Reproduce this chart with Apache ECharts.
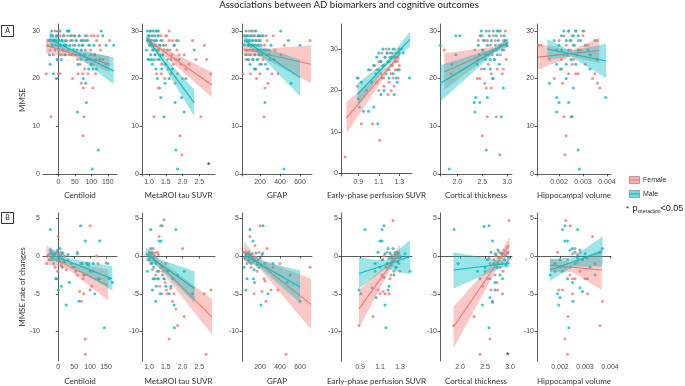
<!DOCTYPE html>
<html>
<head>
<meta charset="utf-8">
<script src="https://cdn.jsdelivr.net/npm/echarts@6/dist/echarts.min.js"></script>
<style>
  html, body { margin: 0; padding: 0; background: #fff; }
  #chart { width: 685px; height: 386px; }
</style>
</head>
<body>
<div id="chart"></div>
<script>
// ---- axis titles and ticks ----
const xNames = ['Centiloid', 'MetaROI tau SUVR', 'GFAP', 'Early-phase perfusion SUVR', 'Cortical thickness', 'Hippocampal volume'];
const xTicks = [[0, 50, 100, 150], [1.0, 1.5, 2.0, 2.5], [200, 400, 600], [0.9, 1.1, 1.3], [2.0, 2.5, 3.0], [0.002, 0.003, 0.004]];
const xDecimals = [null, 1, null, 1, 1, 3];
const yTicksA = [0, 10, 20, 30];
const yTicksB = [-10, -5, 0, 5];

// ---- A: MMSE ----
const a1Female = [[-37,21],[-32,27],[-28,28],[-25,26],[-22,12],[-20,28],[-18,29],[-15,25],[-12,28],[-10,30],[-8,27],[-5,29],[-3,24],[-2,30],[0,21],[0,28],[2,26],[4,21],[5,29],[8,27],[10,25],[12,28],[15,26],[18,29],[20,27],[22,25],[25,28],[28,29],[30,26],[33,25],[36,28],[40,29],[43,20],[45,27],[48,25],[50,29],[53,28],[56,26],[58,24],[60,21],[62,29],[64,25],[66,23],[68,28],[70,19],[72,27],[74,21],[75,8],[76,18],[78,12],[80,22],[82,26],[84,28],[86,24],[88,29],[90,21],[92,27],[95,24],[98,26],[100,29],[103,23],[105,18],[108,29],[110,25],[113,21],[116,28],[120,29],[125,27],[128,26],[135,24],[145,23],[155,28]];
const a1Male = [[-30,28],[-27,25],[-25,23],[-22,29],[-20,30],[-18,27],[-15,21],[-13,28],[-10,26],[-8,28],[-6,20],[-5,29],[-3,24],[0,27],[2,28],[3,25],[5,30],[7,27],[9,24],[11,28],[13,26],[15,29],[17,27],[19,25],[21,28],[24,27],[27,30],[30,30],[33,30],[35,27],[37,29],[40,25],[42,28],[45,26],[48,29],[50,27],[53,25],[55,28],[58,13],[60,23],[62,27],[64,29],[66,25],[68,24],[70,26],[72,28],[74,27],[76,20],[78,28],[80,25],[82,29],[83,19],[85,15],[87,24],[89,28],[92,22],[95,27],[98,25],[100,23],[103,1],[105,22],[108,27],[110,25],[113,24],[116,22],[121,5],[125,24],[130,30],[135,29],[145,27],[168,27]];
const a2Female = [[0.95,28],[1.0,29],[1.02,27],[1.05,30],[1.07,28],[1.1,26],[1.12,29],[1.15,12],[1.15,27],[1.18,25],[1.2,30],[1.22,28],[1.22,21],[1.25,24],[1.27,29],[1.28,18],[1.3,26],[1.32,18],[1.33,27],[1.35,29],[1.37,21],[1.38,23],[1.4,28],[1.42,25],[1.45,26],[1.47,20],[1.5,27],[1.5,29],[1.52,29],[1.55,24],[1.57,22],[1.6,28],[1.6,30],[1.62,26],[1.65,21],[1.68,25],[1.7,28],[1.72,23],[1.75,27],[1.78,19],[1.8,24],[1.83,26],[1.85,21],[1.88,28],[1.9,25],[1.93,8],[1.95,23],[1.98,4],[2.0,20],[2.05,25],[2.1,22],[2.2,23],[2.3,28],[2.4,24],[2.55,12],[2.65,27],[2.72,24],[2.85,21]];
const a2Male = [[0.92,26],[0.95,30],[0.97,24],[0.98,28],[1.0,29],[1.0,24],[1.02,27],[1.03,30],[1.05,25],[1.05,28],[1.07,24],[1.08,29],[1.1,27],[1.1,23],[1.12,30],[1.13,26],[1.15,28],[1.15,24],[1.17,29],[1.18,25],[1.2,27],[1.2,22],[1.22,28],[1.23,30],[1.25,20],[1.25,26],[1.27,29],[1.28,30],[1.3,24],[1.32,27],[1.33,25],[1.35,16],[1.35,28],[1.38,22],[1.4,25],[1.43,27],[1.45,12],[1.48,19],[1.5,23],[1.55,26],[1.6,20],[1.65,24],[1.7,22],[1.75,27],[1.78,15],[1.8,5],[1.82,28],[1.85,1],[1.9,24],[1.97,16],[2.05,13],[2.1,20],[2.35,26]];
const a3Female = [[30,21],[45,29],[55,26],[60,24],[65,28],[70,25],[75,29],[80,27],[85,24],[90,30],[95,26],[100,28],[105,21],[110,25],[115,29],[120,27],[125,24],[130,28],[135,26],[140,30],[145,25],[150,29],[155,27],[160,22],[165,20],[170,28],[175,26],[180,24],[185,29],[190,27],[195,25],[200,21],[205,28],[210,26],[215,23],[220,29],[230,24],[240,12],[245,27],[250,18],[260,25],[260,29],[270,28],[280,19],[290,26],[300,24],[320,21],[333,29],[350,26],[380,21],[410,25],[443,27],[700,28]];
const a3Male = [[40,27],[50,29],[55,25],[60,30],[65,28],[70,26],[75,29],[80,24],[85,27],[90,28],[95,25],[100,23],[105,29],[110,27],[115,30],[120,26],[125,28],[130,24],[135,29],[140,27],[145,22],[150,25],[150,22],[155,28],[160,30],[165,26],[170,24],[175,27],[180,29],[185,25],[190,28],[195,26],[200,23],[200,29],[210,27],[220,25],[230,29],[240,26],[250,15],[255,23],[265,26],[275,22],[290,25],[310,27],[340,24],[407,30],[440,1],[483,28],[510,19],[600,27]];
const a4Female = [[0.77,4],[0.89,21],[0.9,23],[0.93,12],[0.98,20],[1.02,25],[1.04,12],[1.06,26],[1.08,22],[1.08,25],[1.1,27],[1.1,20],[1.11,8],[1.12,24],[1.12,27],[1.13,29],[1.14,26],[1.15,23],[1.15,21],[1.16,28],[1.17,30],[1.18,25],[1.18,29],[1.19,19],[1.2,27],[1.2,22],[1.21,29],[1.22,24],[1.22,20],[1.23,26],[1.23,28],[1.24,30],[1.24,23],[1.25,28],[1.25,21],[1.26,25],[1.26,28],[1.27,29],[1.28,27],[1.28,25],[1.29,23],[1.3,30],[1.3,26],[1.3,25]];
const a4Male = [[0.89,23],[0.9,18],[0.91,16],[0.93,22],[0.95,15],[1.0,15],[1.0,25],[1.03,22],[1.05,16],[1.05,26],[1.07,24],[1.08,28],[1.09,12],[1.1,25],[1.1,29],[1.12,27],[1.12,19],[1.13,23],[1.14,30],[1.15,26],[1.15,20],[1.16,28],[1.17,24],[1.18,29],[1.19,27],[1.2,30],[1.2,25],[1.2,23],[1.21,28],[1.22,26],[1.23,29],[1.24,24],[1.25,30],[1.25,19],[1.26,27],[1.27,23],[1.28,28],[1.28,22],[1.29,25],[1.3,29],[1.32,30],[1.34,29],[1.4,23]];
const a5Female = [[1.74,26],[1.88,21],[2.35,26],[2.4,24],[2.4,20],[2.42,28],[2.45,20],[2.48,22],[2.5,8],[2.5,29],[2.52,26],[2.55,19],[2.55,28],[2.57,25],[2.58,18],[2.6,12],[2.6,28],[2.62,23],[2.64,30],[2.66,27],[2.68,21],[2.68,18],[2.7,25],[2.7,20],[2.72,29],[2.74,24],[2.76,28],[2.78,12],[2.78,26],[2.8,22],[2.82,30],[2.84,27],[2.85,4],[2.86,25],[2.88,29],[2.9,21],[2.92,28],[2.92,22],[2.94,26],[2.96,30],[2.96,28],[2.98,24],[3.0,27]];
const a5Male = [[1.66,27],[1.84,1],[1.89,23],[1.97,29],[1.97,25],[2.05,29],[2.34,15],[2.35,13],[2.37,16],[2.4,23],[2.42,27],[2.44,25],[2.45,15],[2.46,29],[2.48,30],[2.5,26],[2.52,28],[2.54,22],[2.56,24],[2.58,5],[2.58,30],[2.6,16],[2.6,27],[2.62,25],[2.64,29],[2.66,22],[2.66,24],[2.68,28],[2.7,26],[2.72,30],[2.72,20],[2.74,24],[2.76,27],[2.78,29],[2.8,25],[2.8,30],[2.82,28],[2.84,23],[2.86,30],[2.88,12],[2.88,27],[2.9,26],[2.92,18],[2.94,29],[2.96,28],[2.98,27]];
const a6Female = [[0.00115,27],[0.00125,27],[0.0016,24],[0.0018,20],[0.0019,26],[0.002,28],[0.00205,22],[0.0021,24],[0.00215,19],[0.0022,12],[0.0022,29],[0.00225,4],[0.0023,8],[0.0023,27],[0.00235,25],[0.0024,30],[0.0024,21],[0.00245,28],[0.0025,12],[0.0025,26],[0.00255,29],[0.00255,23],[0.0026,24],[0.00265,27],[0.0027,21],[0.0027,30],[0.00275,25],[0.0028,28],[0.0028,21],[0.0029,26],[0.003,29],[0.00305,30],[0.0031,23],[0.0032,27],[0.0033,25],[0.0034,20],[0.0035,21],[0.0036,19],[0.0036,28],[0.0037,18]];
const a6Male = [[0.0016,19],[0.0018,28],[0.0019,16],[0.0019,13],[0.0019,23],[0.002,15],[0.002,27],[0.0021,29],[0.0021,22],[0.0021,26],[0.0022,30],[0.0022,25],[0.0023,28],[0.0023,23],[0.0023,20],[0.0024,15],[0.0024,30],[0.0024,26],[0.0025,28],[0.0025,24],[0.00255,12],[0.0026,18],[0.0026,29],[0.0026,27],[0.0027,23],[0.0027,30],[0.0028,5],[0.0028,26],[0.0028,29],[0.00285,1],[0.0029,28],[0.003,30],[0.0031,27],[0.0032,26],[0.0033,22],[0.0033,25],[0.0035,28],[0.0036,24],[0.00395,16]];

// ---- B: MMSE rate of changes ----
const b1Female = [[-37,-1],[-30,0.2],[-25,0.8],[-20,-0.5],[-15,0.3],[-10,-1.5],[-5,0.5],[-2,-2],[0,2.6],[2,0.2],[5,-0.8],[8,0.5],[10,-1.2],[12,0.3],[15,-0.5],[20,0],[25,-1.8],[30,-0.5],[40,-1],[50,-1.5],[60,-2.5],[60,0.5],[67,-4.7],[70,-1],[73,-6],[78,-3],[80,-5],[83,-2.5],[85,-11],[85,-13],[90,-1],[95,-1],[100,-4.5],[100,4],[105,-4],[110,-2],[120,0],[125,-1],[130,-3],[150,-0.9]];
const b1Male = [[-28,-0.5],[-25,3.5],[-22,0.5],[-18,-0.2],[-15,-1],[-10,0.3],[-8,-3],[-4,-3],[-2,0.8],[0,-4.5],[2,-0.5],[5,1],[8,0],[10,-4],[12,-1.5],[15,0.4],[20,-0.8],[25,-6.5],[30,0.2],[35,-3.5],[45,-1.5],[55,-2],[60,0.3],[65,-6],[70,4],[75,-1],[80,-2.5],[85,2],[90,-1],[95,-1.2],[100,-2],[110,-1],[115,-5],[125,-3],[130,2],[145,-9.5],[155,-1],[160,-3],[170,-3.5]];
const b2Female = [[0.98,-0.5],[1.02,0.5],[1.05,-1],[1.08,0.3],[1.1,-1.8],[1.12,1],[1.15,-0.5],[1.15,-0.2],[1.18,0.4],[1.2,-2.5],[1.22,-1],[1.25,-3],[1.25,0.5],[1.28,0.2],[1.3,2.6],[1.3,-2],[1.32,-4],[1.35,-1.5],[1.38,-5],[1.4,4],[1.42,-2],[1.45,4.8],[1.45,-3],[1.48,-3.5],[1.5,-1],[1.52,-4.5],[1.55,-5],[1.6,-11],[1.65,-4.3],[1.7,-6],[1.75,-5],[1.8,-7],[1.85,-9.2],[2.0,1],[2.05,-8],[2.65,-5],[2.7,-13],[2.85,-4.5]];
const b2Male = [[0.95,-2],[1.0,0.3],[1.02,-0.5],[1.05,3.5],[1.06,1],[1.08,-1],[1.1,0.5],[1.1,-4.5],[1.12,-3],[1.14,-1.5],[1.15,0],[1.17,-3],[1.2,-0.8],[1.2,-6],[1.22,-4],[1.25,-2],[1.28,-3],[1.3,2],[1.33,-5],[1.35,4],[1.36,2],[1.4,-2.5],[1.45,-3],[1.5,-4],[1.55,-2],[1.6,-5],[1.65,-4],[1.7,-3],[1.75,-6.5],[1.76,-9.5],[1.8,3.5],[1.85,-2.5],[2.05,-2],[2.3,-5]];
const b3Female = [[40,0.5],[50,-0.3],[60,0.2],[70,-1],[80,0.4],[90,-0.5],[95,0.2],[100,2.6],[110,-1.5],[120,0.3],[120,-0.3],[130,-0.8],[140,-5],[150,1.4],[160,-0.2],[170,-2],[180,-1],[190,0.5],[200,4],[210,-1.2],[220,-4.7],[230,0.4],[240,-3],[250,-3.3],[260,-6],[270,1],[310,-4.5],[330,-1.5],[380,-4.5],[400,-1],[460,-13],[700,-1.5]];
const b3Male = [[40,-1.5],[50,-0.2],[60,-4.5],[65,0.3],[70,-3],[80,-0.5],[85,0.5],[90,-0.8],[100,3.5],[105,0.2],[110,-1],[120,-0.3],[130,2],[135,-3],[140,-1.8],[145,-3.5],[150,-0.6],[160,0.4],[170,-1.2],[180,-0.5],[190,-1.5],[200,-0.3],[210,-6.5],[220,0.2],[230,4],[250,-1],[280,-5],[330,-1],[470,-3.5],[500,-2.5],[600,-6]];
const b4Female = [[0.89,-9.2],[1.03,-8],[1.05,-2],[1.08,-4.5],[1.1,-5],[1.12,-0.5],[1.12,-2.5],[1.13,-4.7],[1.14,0],[1.15,-5],[1.16,-1.5],[1.17,0.5],[1.18,-1],[1.19,-0.3],[1.19,-5],[1.2,-3],[1.21,0.2],[1.21,-2.5],[1.22,-0.8],[1.23,4.7],[1.24,-2],[1.24,-0.5],[1.25,0.5],[1.26,-1.5],[1.27,-0.2],[1.28,0.3],[1.29,-1],[1.3,-2],[1.3,0]];
const b4Male = [[0.89,-4.5],[0.91,-5],[0.95,3.5],[1.02,-4.2],[1.05,-1],[1.06,-5.5],[1.08,0.5],[1.1,2],[1.1,-1.5],[1.12,3.5],[1.12,2],[1.13,-0.5],[1.14,4],[1.14,-2.8],[1.15,-6.5],[1.15,0.3],[1.16,-9.5],[1.17,-1],[1.18,-4.5],[1.18,1],[1.19,-4],[1.2,0.4],[1.21,-1.2],[1.22,-0.3],[1.23,1],[1.24,-2.5],[1.25,0.2],[1.26,-1.5],[1.27,0.5],[1.28,-0.8],[1.3,-0.2],[1.35,0.3],[1.4,-2]];
const b5Female = [[1.87,-9.2],[2.28,-8],[2.4,-13],[2.45,-4],[2.5,-2],[2.55,-3],[2.58,-0.3],[2.6,-11],[2.6,-1],[2.62,-4.5],[2.65,-6.2],[2.68,-0.5],[2.7,-2.5],[2.7,0.3],[2.72,0],[2.74,-3.5],[2.75,-4.5],[2.76,-1],[2.78,0.5],[2.8,-1.5],[2.82,-0.2],[2.84,0.3],[2.85,-5],[2.86,-2],[2.88,0.8],[2.9,-0.5],[2.92,0.2],[2.94,1.2],[2.95,-0.8],[2.96,0.4],[2.98,4.7]];
const b5Male = [[1.88,3.5],[1.96,-1],[2.35,-2],[2.4,-3],[2.45,-6.5],[2.48,3.9],[2.5,-1.5],[2.55,-0.5],[2.58,4],[2.58,-9.5],[2.6,-5.5],[2.6,-3],[2.62,0.5],[2.65,2],[2.65,-6],[2.68,-1],[2.7,-3.5],[2.7,-4.5],[2.72,0.2],[2.74,-1.5],[2.76,0.8],[2.78,-0.3],[2.8,-2.5],[2.82,0.4],[2.84,-1],[2.85,-3],[2.86,0.3],[2.88,-0.5],[2.9,0],[2.92,-1.2],[2.95,0.5],[2.97,-0.3]];
const b6Female = [[0.0018,-2],[0.0019,0.5],[0.00195,-4.5],[0.002,-1.5],[0.0021,-4.5],[0.0022,-11],[0.0022,-1.5],[0.00223,4.7],[0.0023,-13],[0.00232,-8],[0.0023,-0.5],[0.0024,4],[0.0024,-2.5],[0.0025,0.3],[0.0025,-3],[0.0025,-5],[0.0026,-3],[0.0026,1],[0.0027,-0.8],[0.0027,0.2],[0.0028,-2],[0.0028,0.5],[0.0029,-0.5],[0.003,-3],[0.0031,-5],[0.0031,-0.3],[0.0033,2.6],[0.0034,-1],[0.0036,-9.2],[0.0037,-6]];
const b6Male = [[0.0016,-2.5],[0.0018,-1],[0.0019,-5],[0.00195,-6.5],[0.002,-5.5],[0.002,-0.5],[0.0021,3.5],[0.0021,-2],[0.0022,4],[0.0022,2],[0.0023,2],[0.0023,-3],[0.00235,-9.5],[0.0024,0.8],[0.0024,-1.5],[0.0025,-3.5],[0.0025,1],[0.00252,-6],[0.0026,0.5],[0.0026,-1],[0.0027,3.5],[0.0027,-0.3],[0.0028,-4.2],[0.0028,0.8],[0.0029,-4.7],[0.0029,-0.5],[0.003,0.3],[0.0031,-3],[0.0032,-1.5],[0.0034,-2.5],[0.0036,0.5],[0.0037,1]];

// ---- fitted lines [x, y] and confidence bands [x, lower, upper] ----
const a1FemaleFit = [[-37,26.9],[155,23.0]];   const a1FemaleBand = [[-37,25.3,28.5],[40,24.7,25.9],[155,21.3,24.7]];
const a1MaleFit = [[-27,28.3],[168,21.6]];     const a1MaleBand = [[-27,26.7,29.9],[40,25.5,26.5],[168,18.8,24.4]];
const a2FemaleFit = [[0.95,28.1],[2.87,18.7]]; const a2FemaleBand = [[0.95,27.0,29.2],[1.35,25.5,26.7],[2.87,16.1,21.4]];
const a2MaleFit = [[0.92,28.6],[2.35,14.9]];   const a2MaleBand = [[0.92,27.6,29.6],[1.2,25.4,26.4],[2.35,12.1,17.7]];
const a3FemaleFit = [[35,26.2],[710,23.0]];    const a3FemaleBand = [[35,25.0,27.4],[170,25.0,26.1],[710,19.0,27.0]];
const a3MaleFit = [[40,28.1],[600,20.2]];      const a3MaleBand = [[40,27.1,29.1],[150,26.0,27.1],[600,16.3,24.0]];
const a4FemaleFit = [[0.785,13.4],[1.305,28.6]]; const a4FemaleBand = [[0.785,9.7,17.2],[1.2,25.0,26.1],[1.305,27.4,29.8]];
const a4MaleFit = [[0.893,19.1],[1.404,32.3]];   const a4MaleBand = [[0.893,16.3,21.8],[1.18,26.0,27.1],[1.404,30.5,34.2]];
const a5FemaleFit = [[1.74,21.4],[3.0,27.4]];  const a5FemaleBand = [[1.74,17.6,25.3],[2.75,25.7,26.7],[3.0,26.6,28.2]];
const a5MaleFit = [[1.66,19.0],[3.02,27.6]];   const a5MaleBand = [[1.66,15.2,22.8],[2.75,25.4,26.4],[3.02,26.7,28.5]];
const a6FemaleFit = [[0.00113,24.5],[0.00368,25.9]]; const a6FemaleBand = [[0.00113,21.9,27.3],[0.0025,24.6,25.9],[0.00368,23.2,28.6]];
const a6MaleFit = [[0.00151,26.2],[0.00396,23.7]];   const a6MaleBand = [[0.00151,24.0,28.3],[0.0025,24.6,25.8],[0.00396,20.1,27.3]];
const b1FemaleFit = [[-37,0.13],[157,-3.9]];   const b1FemaleBand = [[-37,-1.1,1.4],[30,-1.7,-0.8],[157,-5.9,-1.8]];
const b1MaleFit = [[-28,0.3],[170,-3.0]];      const b1MaleBand = [[-28,-0.6,1.2],[30,-1.1,-0.25],[170,-4.6,-1.4]];
const b2FemaleFit = [[0.98,0.4],[2.88,-8.1]];  const b2FemaleBand = [[0.98,-0.5,1.3],[1.3,-1.6,-0.45],[2.88,-10.4,-5.7]];
const b2MaleFit = [[0.9,0.3],[2.36,-4.3]];     const b2MaleBand = [[0.9,-0.6,1.2],[1.3,-1.5,-0.4],[2.36,-6.2,-2.0]];
const b3FemaleFit = [[40,0.6],[710,-6.4]];     const b3FemaleBand = [[40,-0.7,1.9],[180,-1.4,-0.3],[710,-9.7,-3.0]];
const b3MaleFit = [[50,0.1],[600,-4.1]];       const b3MaleBand = [[50,-0.6,0.8],[180,-1.3,-0.5],[600,-6.2,-1.9]];
const b4FemaleFit = [[0.89,-7.0],[1.3,0.6]];   const b4FemaleBand = [[0.89,-9.5,-4.5],[1.2,-1.8,-0.7],[1.3,-0.4,1.6]];
const b4MaleFit = [[0.89,-2.3],[1.4,-0.1]];    const b4MaleBand = [[0.89,-4.3,-0.2],[1.15,-1.7,-0.65],[1.4,-2.4,2.1]];
const b5FemaleFit = [[1.87,-9.4],[2.99,1.5]];  const b5FemaleBand = [[1.87,-12.2,-6.7],[2.8,-0.9,0.2],[2.99,0.5,2.5]];
const b5MaleFit = [[1.87,-1.85],[2.99,-0.95]]; const b5MaleBand = [[1.87,-4.3,0.5],[2.8,-1.6,-0.6],[2.99,-1.5,-0.4]];
const b6FemaleFit = [[0.0016,-1.2],[0.00367,-1.85]]; const b6FemaleBand = [[0.0016,-2.1,-0.3],[0.0025,-2.1,-0.85],[0.00367,-4.5,0.9]];
const b6MaleFit = [[0.0016,-1.85],[0.0037,0.64]];    const b6MaleBand = [[0.0016,-3.3,-0.4],[0.0025,-1.4,-0.2],[0.0037,-1.4,2.6]];

const FEMALE = '#F8766D';
const MALE = '#00BFC4';

// layout of the 6 columns (left, width) and both rows
const cols = [[43, 74], [142, 73], [242, 70], [341, 71], [440, 72], [537, 74]];
const rows = [{ top: 24, height: 152 }, { top: 213, height: 151 }];
const xRangeA = [[-46.5, 178], [0.79, 2.97], [20, 720], [0.731, 1.424], [1.654, 3.094], [0.00108, 0.00417]];
const xRangeB = [[-48, 184.6], [0.79, 2.97], [20, 720], [0.71, 1.42], [1.6, 3.04], [0.00108, 0.00404]];

const panels = [
  { f: a1Female, m: a1Male, ff: a1FemaleFit, mf: a1MaleFit, fb: a1FemaleBand, mb: a1MaleBand },
  { f: a2Female, m: a2Male, ff: a2FemaleFit, mf: a2MaleFit, fb: a2FemaleBand, mb: a2MaleBand },
  { f: a3Female, m: a3Male, ff: a3FemaleFit, mf: a3MaleFit, fb: a3FemaleBand, mb: a3MaleBand },
  { f: a4Female, m: a4Male, ff: a4FemaleFit, mf: a4MaleFit, fb: a4FemaleBand, mb: a4MaleBand },
  { f: a5Female, m: a5Male, ff: a5FemaleFit, mf: a5MaleFit, fb: a5FemaleBand, mb: a5MaleBand },
  { f: a6Female, m: a6Male, ff: a6FemaleFit, mf: a6MaleFit, fb: a6FemaleBand, mb: a6MaleBand },
  { f: b1Female, m: b1Male, ff: b1FemaleFit, mf: b1MaleFit, fb: b1FemaleBand, mb: b1MaleBand },
  { f: b2Female, m: b2Male, ff: b2FemaleFit, mf: b2MaleFit, fb: b2FemaleBand, mb: b2MaleBand },
  { f: b3Female, m: b3Male, ff: b3FemaleFit, mf: b3MaleFit, fb: b3FemaleBand, mb: b3MaleBand },
  { f: b4Female, m: b4Male, ff: b4FemaleFit, mf: b4MaleFit, fb: b4FemaleBand, mb: b4MaleBand },
  { f: b5Female, m: b5Male, ff: b5FemaleFit, mf: b5MaleFit, fb: b5FemaleBand, mb: b5MaleBand },
  { f: b6Female, m: b6Male, ff: b6FemaleFit, mf: b6MaleFit, fb: b6FemaleBand, mb: b6MaleBand }
];

const labelFont = { fontSize: 7, color: '#4d4d4d', fontFamily: 'Liberation Sans' };
const nameFont = { fontSize: 8, color: '#333', fontFamily: 'Lato' };
const axisLine = { lineStyle: { color: '#333', width: 0.8 } };
const axisTick = { length: 2.5, lineStyle: { color: '#333', width: 0.8 } };

const grid = [], xAxis = [], yAxis = [], series = [];

// confidence band polygon, corners placed through the axis scales
function bandSeries(band, color, idx, z) {
  return {
    type: 'custom', xAxisIndex: idx, yAxisIndex: idx, z: z, silent: true, clip: true,
    data: band,
    encode: { x: 0, y: [1, 2] },
    renderItem: (params, api) => {
      if (params.dataIndex !== 0) return;
      const upper = band.map((b) => api.coord([b[0], b[2]]));
      const lower = band.map((b) => api.coord([b[0], b[1]])).reverse();
      return { type: 'polygon', shape: { points: upper.concat(lower) }, style: { fill: color, opacity: 0.4 } };
    }
  };
}

panels.forEach((p, i) => {
  const col = i % 6;
  const rowIdx = Math.floor(i / 6);
  const row = rows[rowIdx];
  grid.push({ left: cols[col][0], width: cols[col][1], top: row.top, height: row.height });
  const xr = rowIdx === 0 ? xRangeA[col] : xRangeB[col];
  const dec = xDecimals[col];
  xAxis.push({
    type: 'value', gridIndex: i, min: xr[0], max: xr[1],
    name: xNames[col], nameLocation: 'middle', nameGap: rowIdx === 0 ? 15 : 16, nameTextStyle: nameFont,
    splitLine: { show: false }, axisLine: axisLine,
    axisTick: Object.assign({ customValues: xTicks[col] }, axisTick),
    axisLabel: Object.assign({ customValues: xTicks[col], margin: 3,
      formatter: (v) => dec == null ? String(v) : Number(v).toFixed(dec) }, labelFont)
  });
  const yr = rowIdx === 0 ? (col === 3 ? [-0.6, 36] : [-0.45, 31.45]) : [-13.9, 5.7];
  const yt = rowIdx === 0 ? yTicksA : yTicksB;
  yAxis.push({
    type: 'value', gridIndex: i, min: yr[0], max: yr[1],
    name: col === 0 ? (rowIdx === 0 ? 'MMSE' : 'MMSE rate of changes') : '',
    nameLocation: 'middle', nameGap: 17, nameRotate: 90, nameTextStyle: nameFont,
    splitLine: { show: false }, axisLine: axisLine,
    axisTick: Object.assign({ customValues: yt }, axisTick),
    axisLabel: Object.assign({ customValues: yt, margin: 3 }, labelFont)
  });
  const pt = { type: 'scatter', xAxisIndex: i, yAxisIndex: i, symbolSize: 3, z: 2, silent: true };
  series.push(Object.assign({ data: p.f, itemStyle: { color: FEMALE } }, pt));
  series.push(Object.assign({ data: p.m, itemStyle: { color: MALE } }, pt));
  series.push(bandSeries(p.fb, FEMALE, i, 3));
  series.push({ type: 'line', xAxisIndex: i, yAxisIndex: i, z: 4, data: p.ff, symbol: 'none', silent: true,
    lineStyle: { color: FEMALE, width: 1.1 } });
  series.push(bandSeries(p.mb, MALE, i, 5));
  series.push({ type: 'line', xAxisIndex: i, yAxisIndex: i, z: 6, data: p.mf, symbol: 'none', silent: true,
    lineStyle: { color: MALE, width: 1.1 } });
});

const graphic = [
  { type: 'text', x: 349, y: 5, style: { text: 'Associations between AD biomarkers and cognitive outcomes',
    fontSize: 9.6, fill: '#222', fontFamily: 'Lato', align: 'center', verticalAlign: 'middle' } },
  { type: 'rect', shape: { x: 1.5, y: 25.5, width: 12, height: 11 }, style: { fill: '#fff', stroke: '#333', lineWidth: 1 } },
  { type: 'text', x: 7.5, y: 31, style: { text: 'A', fontSize: 7, fill: '#222', align: 'center', verticalAlign: 'middle', fontFamily: 'Lato' } },
  { type: 'rect', shape: { x: 1.5, y: 212.5, width: 12, height: 11 }, style: { fill: '#fff', stroke: '#333', lineWidth: 1 } },
  { type: 'text', x: 7.5, y: 218, style: { text: 'B', fontSize: 7, fill: '#222', align: 'center', verticalAlign: 'middle', fontFamily: 'Lato' } },
  // legend
  { type: 'rect', shape: { x: 629.5, y: 176.5, width: 10, height: 7 }, style: { fill: 'rgba(248,118,109,0.55)', stroke: '#777', lineWidth: 0.6 } },
  { type: 'line', shape: { x1: 629.5, y1: 180, x2: 639.5, y2: 180 }, style: { stroke: FEMALE, lineWidth: 1.1 } },
  { type: 'text', x: 643, y: 180, style: { text: 'Female', fontSize: 7, fill: '#333', verticalAlign: 'middle', fontFamily: 'Liberation Sans' } },
  { type: 'rect', shape: { x: 629.5, y: 190.5, width: 10, height: 7 }, style: { fill: 'rgba(0,191,196,0.55)', stroke: '#777', lineWidth: 0.6 } },
  { type: 'line', shape: { x1: 629.5, y1: 194, x2: 639.5, y2: 194 }, style: { stroke: MALE, lineWidth: 1.1 } },
  { type: 'text', x: 643, y: 194, style: { text: 'Male', fontSize: 7, fill: '#333', verticalAlign: 'middle', fontFamily: 'Liberation Sans' } },
  { type: 'text', x: 626, y: 203, style: {
      text: '{s|*} {p|p}{sub|interaction}{p|<0.05}', fontFamily: 'Liberation Sans', fill: '#222',
      rich: { s: { fontSize: 8, fill: '#222' }, p: { fontSize: 9, fill: '#222' }, sub: { fontSize: 5, fill: '#222', padding: [5, 0, 0, 0] } } } },
  // interaction markers
  { type: 'text', x: 207, y: 161, style: { text: '*', fontSize: 9, fill: '#222', fontFamily: 'Liberation Sans' } },
  { type: 'text', x: 506, y: 351, style: { text: '*', fontSize: 9, fill: '#222', fontFamily: 'Liberation Sans' } },
  { type: 'text', x: 525, y: 257, style: { text: '›', fontSize: 7, fill: '#888', fontFamily: 'Liberation Sans' } }
];

const chart = echarts.init(document.getElementById('chart'), null, { renderer: 'canvas' });
chart.setOption({ animation: false, backgroundColor: '#fff', grid, xAxis, yAxis, series, graphic });
</script>
</body>
</html>
